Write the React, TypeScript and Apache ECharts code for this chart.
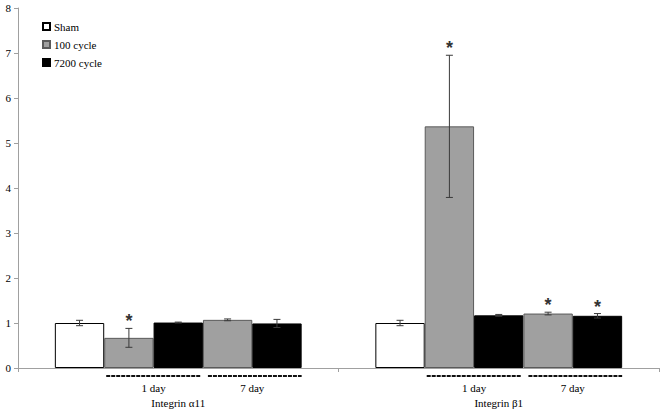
import React, { useEffect, useRef } from "react";
import * as echarts from "echarts";

const categories = ["Integrin α11", "Integrin β1"];
const legendNames = ["Sham", "100 cycle", "7200 cycle"];
const periodLabels = ["1 day", "7 day"];
const yTicks = [0, 1, 2, 3, 4, 5, 6, 7, 8];

// bar order within each group: Sham, 100 cycle (1 day), 7200 cycle (1 day), 100 cycle (7 day), 7200 cycle (7 day)
const shamVals = [1.0, 1.0];
const shamErr = [0.06, 0.06];
const c100d1Vals = [0.67, 5.37];
const c100d1Err = [0.21, 1.58];
const c7200d1Vals = [1.01, 1.17];
const c7200d1Err = [0.01, 0.02];
const c100d7Vals = [1.07, 1.21];
const c100d7Err = [0.02, 0.03];
const c7200d7Vals = [0.99, 1.16];
const c7200d7Err = [0.09, 0.05];
const significant = [
  [false, true, false, false, false],
  [false, true, false, true, true],
];

const FONT = "Liberation Serif";
const GAP = 0.23;
const NBARS = 5;

export default function App() {
  const ref = useRef<HTMLDivElement>(null);
  useEffect(() => {
    if (!ref.current) return;
    const chart = echarts.init(ref.current, undefined, { renderer: "svg" });
    const styles = [
      { color: "#ffffff", borderColor: "#000000", name: "Sham" },
      { color: "#a0a0a0", borderColor: "#5a5a5a", name: "100 cycle" },
      { color: "#000000", borderColor: "#000000", name: "7200 cycle" },
      { color: "#a0a0a0", borderColor: "#5a5a5a", name: "100 cycle" },
      { color: "#000000", borderColor: "#000000", name: "7200 cycle" },
    ];
    const vals = [shamVals, c100d1Vals, c7200d1Vals, c100d7Vals, c7200d7Vals];
    const errs = [shamErr, c100d1Err, c7200d1Err, c100d7Err, c7200d7Err];

    const barSeries = vals.map((v, i) => ({
      type: "bar",
      name: styles[i].name,
      data: v,
      barGap: "0%",
      barCategoryGap: GAP * 100 + "%",
      itemStyle: { color: styles[i].color, borderColor: styles[i].borderColor, borderWidth: 1 },
      z: 2,
    }));

    const errData: any[] = [];
    categories.forEach((_, c) => {
      vals.forEach((v, s) => {
        errData.push([c, v[c], errs[s][c], s, significant[c][s] ? 1 : 0]);
      });
    });

    const errSeries = {
      type: "custom",
      name: "err",
      z: 10,
      silent: true,
      data: errData,
      renderItem: (params: any, api: any) => {
        const c = api.value(0);
        const v = api.value(1);
        const e = api.value(2);
        const s = api.value(3);
        const sig = api.value(4);
        const bandW = api.size([1, 0])[0];
        const barW = (bandW * (1 - GAP)) / NBARS;
        const center = api.coord([c, v]);
        const x = center[0] + (s - (NBARS - 1) / 2) * barW;
        const yTop = api.coord([c, v + e])[1];
        const yBot = api.coord([c, v - e])[1];
        const cap = 3.5;
        const st = { stroke: "#3a3a3a", lineWidth: 1 };
        const children: any[] = [
          { type: "line", shape: { x1: x, y1: yTop, x2: x, y2: yBot }, style: st },
          { type: "line", shape: { x1: x - cap, y1: yTop, x2: x + cap, y2: yTop }, style: st },
          { type: "line", shape: { x1: x - cap, y1: yBot, x2: x + cap, y2: yBot }, style: st },
        ];
        if (sig) {
          children.push({
            type: "text",
            style: {
              x: x,
              y: yTop + 2,
              text: "*",
              fill: "#333",
              font: "bold 18px Liberation Sans",
              textAlign: "center",
              textVerticalAlign: "bottom",
            },
          });
        }
        return { type: "group", children };
      },
    };

    const annotSeries = {
      type: "custom",
      name: "annot",
      z: 10,
      silent: true,
      data: categories.map((_, c) => [c]),
      renderItem: (params: any, api: any) => {
        const c = api.value(0);
        const bandW = api.size([1, 0])[0];
        const barW = (bandW * (1 - GAP)) / NBARS;
        const base = api.coord([c, 0]);
        const left = (k: number) => base[0] + (k - NBARS / 2) * barW;
        const yLine = base[1] + 8;
        const spans = [
          [left(1) + 2, left(3) - 2],
          [left(3) + 5, left(5)],
        ];
        const children: any[] = [];
        spans.forEach((sp, i) => {
          children.push({
            type: "line",
            shape: { x1: sp[0], y1: yLine, x2: sp[1], y2: yLine },
            style: { stroke: "#111", lineWidth: 2, lineDash: [4, 1] },
          });
          children.push({
            type: "text",
            style: {
              x: (left(1 + 2 * i) + left(3 + 2 * i)) / 2,
              y: yLine + 12,
              text: periodLabels[i],
              fill: "#000",
              font: "11px " + FONT,
              textAlign: "center",
              textVerticalAlign: "middle",
            },
          });
        });
        return { type: "group", children };
      },
    };

    chart.setOption({
      animation: false,
      textStyle: { fontFamily: FONT },
      grid: { left: 18, right: 5, top: 8, bottom: 46, containLabel: false },
      legend: {
        data: legendNames,
        orient: "vertical",
        left: 37,
        top: 16,
        itemWidth: 7,
        itemHeight: 7,
        itemGap: 7,
        icon: "rect",
        textStyle: { fontFamily: FONT, fontSize: 11, color: "#000", padding: [0, 0, 0, -1] },
        selectedMode: false,
      },
      xAxis: {
        type: "category",
        data: categories,
        axisLine: { lineStyle: { color: "#a0a0a0", width: 1 } },
        axisTick: { show: true, length: 4, lineStyle: { color: "#a0a0a0" } },
        axisLabel: { color: "#000", fontFamily: FONT, fontSize: 11, margin: 29 },
      },
      yAxis: {
        type: "value",
        min: yTicks[0],
        max: yTicks[yTicks.length - 1],
        interval: 1,
        splitLine: { show: false },
        axisLine: { show: true, lineStyle: { color: "#a0a0a0", width: 1 } },
        axisTick: { show: true, length: 4, lineStyle: { color: "#a0a0a0" } },
        axisLabel: { color: "#000", fontFamily: FONT, fontSize: 11, margin: 7 },
      },
      series: [...barSeries, errSeries, annotSeries],
    });
    return () => chart.dispose();
  }, []);
  return (
    <div
      ref={ref}
      style={{ position: "fixed", left: 0, top: 0, width: 664, height: 414, background: "#fff" }}
    />
  );
}
